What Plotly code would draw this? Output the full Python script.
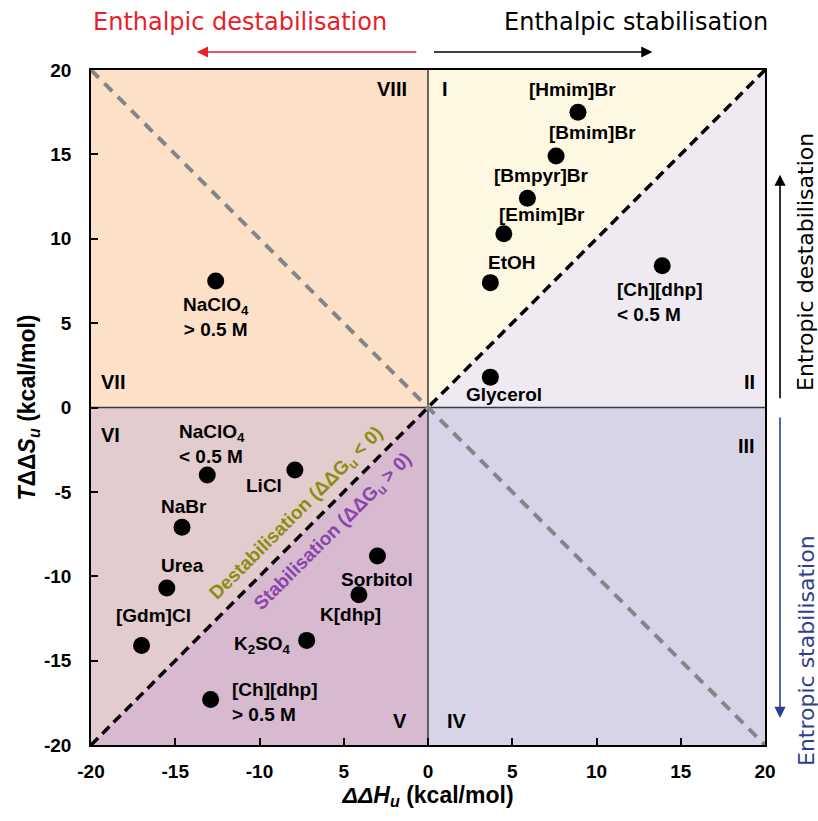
import plotly.graph_objects as go

# ---------------------------------------------------------------- data
labels = [
    "[Hmim]Br", "[Bmim]Br", "[Bmpyr]Br", "[Emim]Br", "EtOH",
    "[Ch][dhp]<br>&lt; 0.5 M", "Glycerol", "NaClO<sub>4</sub><br>&gt; 0.5 M",
    "NaClO<sub>4</sub><br>&lt; 0.5 M", "LiCl", "NaBr", "Urea", "[Gdm]Cl",
    "Sorbitol", "K[dhp]", "K<sub>2</sub>SO<sub>4</sub>", "[Ch][dhp]<br>&gt; 0.5 M",
]
ddH = [8.9, 7.6, 5.9, 4.5, 3.7, 13.9, 3.7, -12.6,
       -13.1, -7.9, -14.6, -15.5, -17.0, -3.0, -4.1, -7.2, -12.9]
TddS = [17.5, 14.9, 12.4, 10.3, 7.4, 8.4, 1.8, 7.5,
        -4.0, -3.7, -7.1, -10.7, -14.1, -8.8, -11.1, -13.8, -17.3]

tick_vals = [-20, -15, -10, -5, 0, 5, 10, 15, 20]
x_tick_text = ["-20", "-15", "-10", "5", "0", "5", "10", "15", "20"]
y_tick_text = ["-20", "-15", "-10", "-5", "0", "5", "10", "15", "20"]

quadrants = ["I", "II", "III", "IV", "V", "VI", "VII", "VIII"]

# --------------------------------------------------------------- style
LIM = 20
FONT = "Liberation Sans, Arial, Helvetica, sans-serif"
CAP_FONT = "DejaVu Sans, Liberation Sans, sans-serif"
C_I = "#fef8e3"
C_II = "#efe9f1"
C_LOWR = "#d8d4e8"
C_UPL = "#fce0c8"
C_VI = "#e3cccd"
C_V = "#d7b9d0"
OLIVE = "#8c8c12"
PURPLE = "#8a45a8"
RED = "#e8202a"
BLUE = "#2e3f92"

# label placement: (xanchor, xshift, yshift) per point, in pixels
label_pos = [
    ("center", -5, 23), ("center", 36, 24), ("center", 14, 23), ("center", 38, 19),
    ("center", 22, 20), ("left", -47, -36), ("center", 14, -17), ("center", 0, -36),
    ("left", -30, 31), ("center", -31, -16), ("center", 2, 21), ("center", 16, 23),
    ("center", 12, 30), ("center", 0, -23), ("center", -8, -20), ("center", -44, -5),
    ("left", 19, -3),
]

fig = go.Figure()

shapes = [
    # quadrant backgrounds
    dict(type="rect", x0=-LIM, x1=0, y0=0, y1=LIM, fillcolor=C_UPL),
    dict(type="rect", x0=0, x1=LIM, y0=-LIM, y1=0, fillcolor=C_LOWR),
    dict(type="path", path=f"M 0 0 L {LIM} {LIM} L 0 {LIM} Z", fillcolor=C_I),
    dict(type="path", path=f"M 0 0 L {LIM} {LIM} L {LIM} 0 Z", fillcolor=C_II),
    dict(type="path", path=f"M 0 0 L {-LIM} {-LIM} L {-LIM} 0 Z", fillcolor=C_VI),
    dict(type="path", path=f"M 0 0 L {-LIM} {-LIM} L 0 {-LIM} Z", fillcolor=C_V),
]
for s in shapes:
    s.update(xref="x", yref="y", layer="below", line=dict(width=0))

# quadrant dividers
shapes += [
    dict(type="line", x0=0, x1=0, y0=-LIM, y1=LIM, xref="x", yref="y",
         layer="below", line=dict(color="#3a3a3a", width=1.5)),
    dict(type="line", x0=-LIM, x1=LIM, y0=0, y1=0, xref="x", yref="y",
         layer="below", line=dict(color="#3a3a3a", width=1.5)),
    # ΔΔG = 0 diagonal and the anti-diagonal
    dict(type="line", x0=-LIM, x1=LIM, y0=LIM, y1=-LIM, xref="x", yref="y",
         layer="below", line=dict(color="#858585", width=4, dash="11px,8px")),
    dict(type="line", x0=-LIM, x1=LIM, y0=-LIM, y1=LIM, xref="x", yref="y",
         layer="below", line=dict(color="#000000", width=3.5, dash="10px,6px")),
]

fig.add_trace(go.Scatter(
    x=ddH, y=TddS, mode="markers",
    marker=dict(size=17, color="black"),
    hovertext=labels, showlegend=False, cliponaxis=False,
))

annotations = []
lab_font = dict(family=FONT, size=19, color="black", weight="bold")
for txt, xv, yv, (anc, dx, dy) in zip(labels, ddH, TddS, label_pos):
    annotations.append(dict(
        x=xv, y=yv, xref="x", yref="y", text=txt, showarrow=False,
        xanchor=anc, yanchor="middle", xshift=dx, yshift=dy,
        align="left" if anc == "left" else "center", font=lab_font,
    ))

# quadrant numerals
num_pos = {
    "I": (0.7, 18.9, "left"), "II": (19.5, 1.5, "right"), "III": (19.5, -2.3, "right"),
    "IV": (1.0, -18.6, "left"), "V": (-1.1, -18.6, "right"), "VI": (-19.5, -1.6, "left"),
    "VII": (-19.5, 1.5, "left"), "VIII": (-1.1, 18.9, "right"),
}
for q in quadrants:
    xv, yv, anc = num_pos[q]
    annotations.append(dict(
        x=xv, y=yv, xref="x", yref="y", text=q, showarrow=False,
        xanchor=anc, yanchor="middle",
        font=dict(family=FONT, size=20, color="black", weight="bold"),
    ))

# diagonal captions
annotations += [
    dict(x=-7.8, y=-6.3, xref="x", yref="y", showarrow=False, textangle=-45,
         text="Destabilisation (ΔΔG<sub>u</sub> &lt; 0)",
         font=dict(family=FONT, size=19, color=OLIVE, weight="bold")),
    dict(x=-5.6, y=-7.4, xref="x", yref="y", showarrow=False, textangle=-45,
         text="Stabilisation (ΔΔG<sub>u</sub> &gt; 0)",
         font=dict(family=FONT, size=19, color=PURPLE, weight="bold")),
]

# enthalpy / entropy direction arrows and captions
top_font = dict(family=CAP_FONT, size=24)
side_font = dict(family=CAP_FONT, size=22)
arrow_style = dict(xref="paper", yref="paper", text="", showarrow=True,
                   arrowhead=2, arrowsize=1.4, arrowwidth=1.6)
caption_style = dict(xref="paper", yref="paper", showarrow=False,
                     xanchor="center", yanchor="middle")
annotations += [
    dict(arrow_style, x=0.157, y=1.0267, ax=221, ay=0, arrowcolor=RED),
    dict(arrow_style, x=0.833, y=1.0267, ax=-220, ay=0, arrowcolor="black"),
    dict(arrow_style, x=1.0223, y=0.845, ax=0, ay=225, arrowcolor="black"),
    dict(arrow_style, x=1.0223, y=0.04, ax=0, ay=-302, arrowcolor=BLUE),
    dict(caption_style, x=0.221, y=1.0711, text="Enthalpic destabilisation",
         font=dict(top_font, color=RED)),
    dict(caption_style, x=0.8086, y=1.0711, text="Enthalpic stabilisation",
         font=dict(top_font, color="black")),
    dict(caption_style, x=1.0608, y=0.7156, textangle=-90, text="Entropic destabilisation",
         font=dict(side_font, color="black")),
    dict(caption_style, x=1.0608, y=0.1407, textangle=-90, text="Entropic stabilisation",
         font=dict(side_font, color=BLUE)),
]

axis_common = dict(
    range=[-LIM, LIM], showgrid=False, zeroline=False,
    showline=True, mirror=True, linecolor="black", linewidth=1.5,
    ticks="inside", ticklen=7, tickwidth=1.5, tickcolor="black",
    tickvals=tick_vals,
    tickfont=dict(family=FONT, size=19, color="black", weight="bold"),
)

fig.update_layout(
    width=818, height=821,
    margin=dict(l=91, r=53, t=70, b=76),
    paper_bgcolor="white", plot_bgcolor="white",
    shapes=shapes, annotations=annotations,
    xaxis=dict(axis_common, ticktext=x_tick_text, ticklabelstandoff=8,
               title=dict(text="<i>ΔΔH<sub>u</sub></i> (kcal/mol)", standoff=4,
                          font=dict(family=FONT, size=23, color="black", weight="bold"))),
    yaxis=dict(axis_common, ticktext=y_tick_text, ticklabelstandoff=14,
               title=dict(text="<i>T</i>ΔΔ<i>S<sub>u</sub></i> (kcal/mol)", standoff=2,
                          font=dict(family=FONT, size=23, color="black", weight="bold"))),
)

fig.write_html("out.html")
